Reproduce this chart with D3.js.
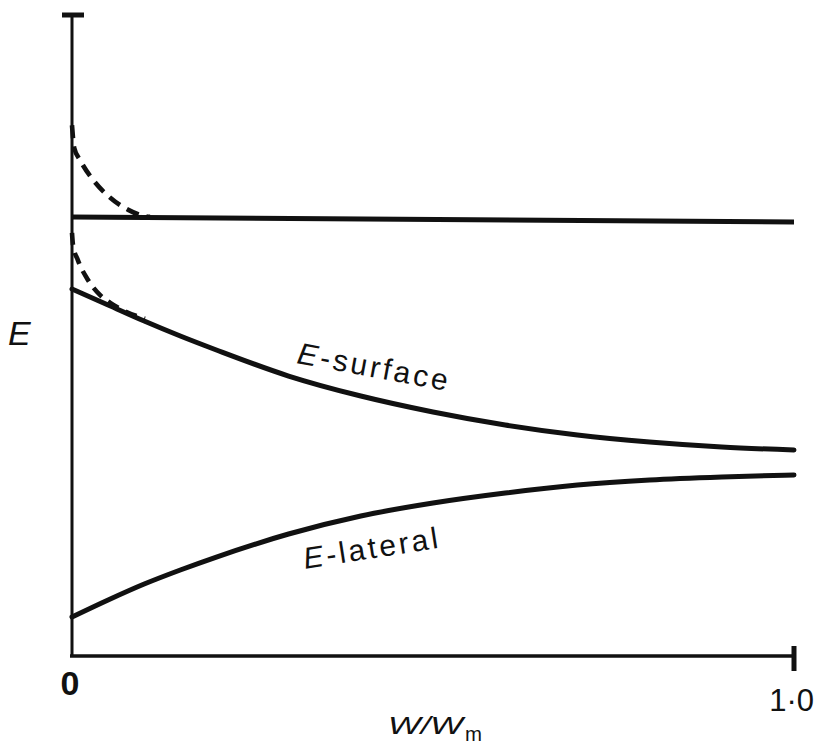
<!DOCTYPE html>
<html>
<head>
<meta charset="utf-8">
<script src="https://cdn.jsdelivr.net/npm/d3@7"></script>
<style>
  html, body { margin: 0; padding: 0; background: #fff; }
  svg { display: block; }
  text { font-family: "Liberation Sans", Arial, sans-serif; fill: #111; }
</style>
</head>
<body>
<svg id="chart" width="822" height="746"></svg>
<script>
// ---- data (W/Wm on x, E in arbitrary units 0..100 on y) ----
const xTicks = [0, 1];
const xTickLabels = ["0", "1·0"];
const horizontalLine = [[0, 68.5], [1, 67.7]];
const eSurfaceX = [0, 0.05, 0.1, 0.15, 0.2, 0.3, 0.4, 0.5, 0.6, 0.7, 0.8, 0.9, 1.0];
const eSurfaceY = [57.25, 54.76, 52.26, 49.92, 47.74, 43.68, 40.56, 38.07, 36.04, 34.48, 33.39, 32.61, 32.14];
const eLateralX = [0, 0.05, 0.1, 0.15, 0.2, 0.3, 0.4, 0.5, 0.6, 0.7, 0.8, 0.9, 1.0];
const eLateralY = [6.08, 8.74, 11.23, 13.42, 15.44, 19.03, 21.84, 23.87, 25.43, 26.68, 27.46, 27.93, 28.24];
const upperDashX = [0, 0.003, 0.011, 0.029, 0.053, 0.078, 0.101, 0.108];
const upperDashY = [82.8, 79.3, 77.4, 74.3, 71.5, 69.6, 68.6, 68.5];
const lowerDashX = [0, 0.0014, 0.008, 0.022, 0.039, 0.053, 0.073, 0.101];
const lowerDashY = [66.0, 64.1, 61.8, 58.7, 56.3, 55.1, 53.8, 52.6];
const yAxisLabel = "E";
const xAxisLabel = "W/W";
const xAxisSub = "m";

// ---- scales ----
const svg = d3.select("#chart");
const x = d3.scaleLinear().domain([0, 1]).range([72, 794]);
const y = d3.scaleLinear().domain([0, 100]).range([656, 15]);

const ink = "#111";
const line = d3.line().x(d => x(d[0])).y(d => y(d[1])).curve(d3.curveMonotoneX);
const zip = (a, b) => a.map((v, i) => [v, b[i]]);

// ---- axes ----
// y axis (no ticks) with a cap at the top
svg.append("line").attr("x1", x(0)).attr("x2", x(0)).attr("y1", y(100)).attr("y2", y(0) + 1)
  .attr("stroke", ink).attr("stroke-width", 3);
svg.append("line").attr("x1", x(0) - 10).attr("x2", x(0) + 12).attr("y1", y(100)).attr("y2", y(100))
  .attr("stroke", ink).attr("stroke-width", 5);

// x axis via d3.axisBottom (domain line only)
const xAxis = d3.axisBottom(x).tickValues([]).tickSizeOuter(0);
const gx = svg.append("g").attr("transform", `translate(0,${y(0)})`).call(xAxis);
gx.select(".domain").attr("stroke", ink).attr("stroke-width", 3.4)
  .attr("d", `M${x(0) - 2},0H${x(1)}`);
// end tick at 1.0
svg.append("line").attr("x1", x(1)).attr("x2", x(1)).attr("y1", y(0) - 10).attr("y2", y(0) + 15)
  .attr("stroke", ink).attr("stroke-width", 5);

// tick labels
svg.append("text").attr("x", x(xTicks[0]) - 2).attr("y", 695)
  .attr("text-anchor", "middle").attr("font-size", 34).attr("font-weight", "bold")
  .text(xTickLabels[0]);
svg.append("text").attr("x", 814).attr("y", 711).attr("text-anchor", "end")
  .attr("font-size", 31)
  .text(xTickLabels[1]);

// axis titles
svg.append("text").attr("x", 8).attr("y", 345).attr("font-size", 34).attr("font-style", "italic")
  .text(yAxisLabel);
svg.append("text").attr("x", 388).attr("y", 734).attr("font-size", 23).attr("font-style", "italic")
  .attr("textLength", 75).attr("lengthAdjust", "spacingAndGlyphs").text(xAxisLabel);
svg.append("text").attr("x", 465).attr("y", 741).attr("font-size", 20)
  .attr("textLength", 17).attr("lengthAdjust", "spacingAndGlyphs").text(xAxisSub);

// ---- curves ----
svg.append("path").datum(horizontalLine).attr("d", d3.line().x(d => x(d[0])).y(d => y(d[1])))
  .attr("fill", "none").attr("stroke", ink).attr("stroke-width", 5);
svg.append("path").datum(zip(eSurfaceX, eSurfaceY)).attr("d", line)
  .attr("fill", "none").attr("stroke", ink).attr("stroke-width", 5).attr("stroke-linecap", "round");
svg.append("path").datum(zip(eLateralX, eLateralY)).attr("d", line)
  .attr("fill", "none").attr("stroke", ink).attr("stroke-width", 5).attr("stroke-linecap", "round");
svg.append("path").datum(zip(upperDashX, upperDashY)).attr("d", line)
  .attr("fill", "none").attr("stroke", ink).attr("stroke-width", 4.6)
  .attr("stroke-dasharray", "13,8");
svg.append("path").datum(zip(lowerDashX, lowerDashY)).attr("d", line)
  .attr("fill", "none").attr("stroke", ink).attr("stroke-width", 4.6)
  .attr("stroke-dasharray", "12,8");

// ---- curve labels ----
const sl = svg.append("text").attr("transform", "translate(296,363) rotate(10.5)")
  .attr("font-size", 30).attr("letter-spacing", 3);
sl.append("tspan").attr("font-style", "italic").text("E");
sl.append("tspan").text("-surface");

const ll = svg.append("text").attr("transform", "translate(305,569) rotate(-9)")
  .attr("font-size", 30).attr("letter-spacing", 3);
ll.append("tspan").attr("font-style", "italic").text("E");
ll.append("tspan").text("-lateral");
</script>
</body>
</html>
